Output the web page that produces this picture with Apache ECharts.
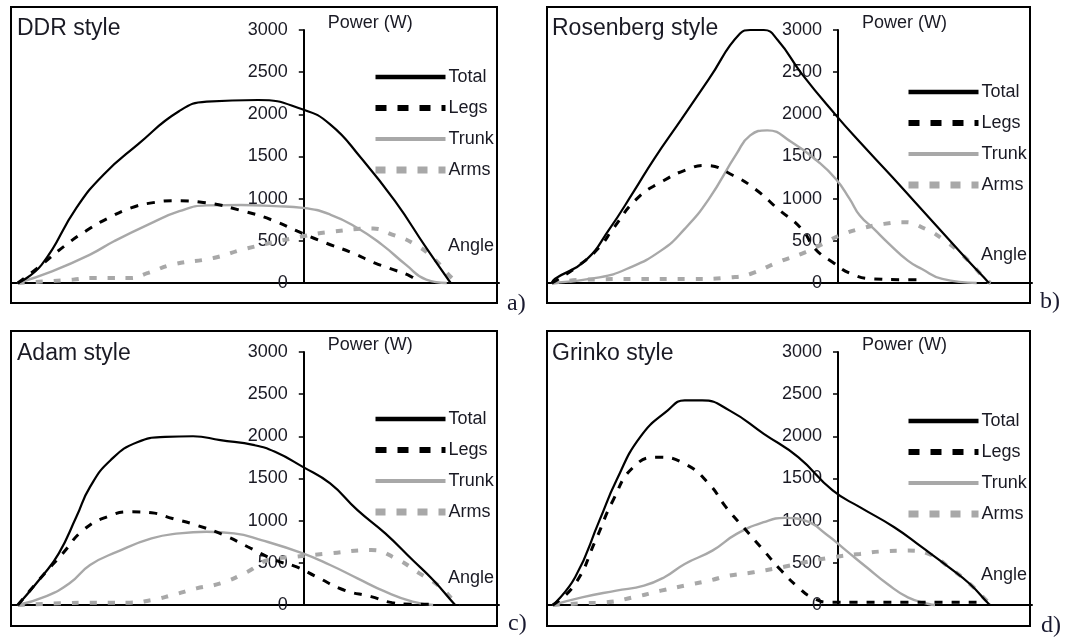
<!DOCTYPE html>
<html>
<head>
<meta charset="utf-8">
<script src="https://cdn.jsdelivr.net/npm/echarts@6/dist/echarts.min.js"></script>
<style>
html,body{margin:0;padding:0;background:#fff;}
#chart{width:1072px;height:643px;}
</style>
</head>
<body>
<div id="chart"></div>
<script>
// ---- data (angle, power W) ----
const panelTitles = ['DDR style', 'Rosenberg style', 'Adam style', 'Grinko style'];
const panelTags = ['a)', 'b)', 'c)', 'd)'];
const seriesNames = ['Total', 'Legs', 'Trunk', 'Arms'];
const yTickMin = 0, yTickMax = 3000, yTickStep = 500;
const angleMin = -60, angleMax = 40;

const ddrTotal = [[-58.6,0],[-53.7,218],[-46.6,891],[-41.0,1287],[-34.0,1643],[-25.5,2039],[-19.9,2150],[-9.4,2170],[-0.3,2060],[5.4,1881],[11.7,1485],[18.7,970],[25.1,416],[30.1,0]];
const ddrLegs = [[-58.6,0],[-53.7,218],[-49.1,436],[-44.2,634],[-40.0,772],[-35.4,891],[-31.2,950],[-26.2,975],[-20.6,955],[-11.8,843],[-5.9,733],[-1.3,614],[3.6,495],[10.0,356],[14.5,238],[17.4,178],[21.9,79],[23.7,0]];
const ddrTrunk = [[-58.6,0],[-51.6,139],[-43.8,337],[-38.9,495],[-31.9,693],[-25.5,851],[-19.9,920],[-12.9,925],[-5.9,911],[-0.2,891],[5.4,812],[11.0,653],[16.0,455],[20.9,218],[25.1,40],[29.3,0]];
const ddrArms = [[-58.6,0],[-47.3,40],[-43.5,59],[-39.3,59],[-35.7,59],[-31.9,119],[-26.9,218],[-18.5,297],[-11.8,408],[-0.2,554],[5.4,606],[14.2,645],[18.1,574],[22.3,475],[26.5,297],[30.7,40],[32.1,0]];

const rosTotal = [[-59.0,0],[-58.4,48],[-52.1,265],[-47.1,642],[-42.2,1077],[-37.9,1473],[-32.3,1940],[-26.6,2420],[-20.2,2958],[-18.1,3000],[-15.3,3000],[-12.4,2879],[-7.5,2483],[-0.4,1988],[4.5,1671],[10.9,1275],[15.9,958],[21.5,602],[26.5,285],[30.7,28],[31.2,0]];
const rosLegs = [[-59.0,0],[-53.5,206],[-49.2,424],[-46.4,642],[-41.5,998],[-36.5,1196],[-30.8,1354],[-27.3,1394],[-21.6,1275],[-16.7,1097],[-12.4,879],[-7.5,642],[-4.7,404],[-1.1,246],[2.8,107],[7.4,48],[13.0,40],[17.3,40]];
const rosTrunk = [[-59.0,0],[-49.2,67],[-43.6,166],[-36.5,384],[-31.6,642],[-26.6,998],[-20.9,1533],[-18.1,1750],[-14.6,1810],[-9.6,1671],[-4.0,1434],[-0.4,1230],[2.4,998],[4.5,800],[7.4,642],[10.2,483],[14.4,265],[17.3,166],[21.5,48],[28.6,0]];
const rosArms = [[-59.0,0],[-52.0,40],[-40.0,48],[-30.0,48],[-22.0,67],[-18.1,107],[-12.4,246],[-6.8,364],[-2.5,483],[0.3,562],[4.5,642],[9.5,701],[13.7,721],[18.0,642],[21.5,523],[25.8,325],[30.7,28],[31.5,0]];

const adamTotal = [[-58.6,0],[-53.7,335],[-50.2,612],[-46.6,1046],[-43.8,1401],[-39.6,1717],[-34.0,1934],[-28.4,1993],[-22.7,2001],[-17.1,1954],[-10.1,1895],[-5.9,1816],[-0.2,1638],[5.4,1441],[11.0,1125],[16.7,849],[22.3,533],[26.5,296],[30.7,20],[31.0,0]];
const adamLegs = [[-58.6,0],[-53.7,335],[-49.4,612],[-45.2,888],[-40.3,1046],[-35.4,1105],[-31.2,1093],[-26.9,1026],[-22.0,947],[-16.4,829],[-11.5,691],[-5.9,533],[-1.6,454],[2.6,335],[8.2,178],[13.8,99],[18.1,28],[22.0,10],[26.0,10]];
const adamTrunk = [[-58.6,0],[-53.0,99],[-48.0,257],[-43.8,474],[-38.2,632],[-31.2,789],[-25.5,849],[-19.9,868],[-14.3,849],[-8.7,770],[-0.2,612],[5.4,474],[11.0,316],[16.7,158],[22.3,39],[26.5,0]];
const adamArms = [[-58.6,0],[-50.0,20],[-43.8,28],[-39.6,28],[-35.7,28],[-31.2,59],[-26.9,118],[-22.0,197],[-17.1,257],[-11.5,395],[-7.3,533],[-1.6,572],[5.4,612],[13.8,651],[18.8,553],[23.7,375],[27.9,217],[31.4,12],[32.0,0]];

const grinTotal = [[-58.8,0],[-54.2,329],[-49.2,1001],[-45.7,1476],[-40.8,1991],[-35.1,2308],[-31.6,2426],[-28.0,2426],[-22.4,2308],[-15.3,2030],[-8.2,1753],[-1.1,1358],[4.5,1160],[11.6,922],[17.3,685],[22.9,447],[27.2,249],[31.1,12],[31.5,0]];
const grinLegs = [[-58.8,0],[-54.2,249],[-50.0,764],[-46.4,1239],[-42.2,1635],[-37.2,1753],[-31.6,1674],[-26.6,1437],[-23.1,1160],[-19.5,922],[-15.3,645],[-11.7,408],[-8.2,210],[-5.4,91],[-1.8,32],[3.8,32],[14.4,32],[28.6,32]];
const grinTrunk = [[-58.8,0],[-52.8,91],[-45.7,170],[-40.0,230],[-35.8,329],[-31.6,487],[-25.9,645],[-20.9,843],[-15.3,982],[-11.0,1033],[-6.8,1001],[-2.5,843],[1.7,645],[5.9,447],[10.2,249],[14.4,91],[18.7,12],[20.0,0]];
const grinArms = [[-58.8,0],[-52.8,20],[-47.8,32],[-42.2,91],[-36.5,170],[-31.6,230],[-26.6,289],[-22.4,348],[-17.4,388],[-12.4,439],[-6.8,507],[-1.1,566],[4.5,606],[9.5,637],[14.4,645],[18.7,606],[22.9,447],[27.2,249],[31.4,12],[32.0,0]];

const panelData = [
  [ddrTotal, ddrLegs, ddrTrunk, ddrArms],
  [rosTotal, rosLegs, rosTrunk, rosArms],
  [adamTotal, adamLegs, adamTrunk, adamArms],
  [grinTotal, grinLegs, grinTrunk, grinArms]
];

// ---- layout / style ----
const FONT = '"Liberation Sans", Arial, sans-serif';
const TXT = '#1a1a24';
const GRAY = '#a8a8a8';
const panels = [
  {box:[11,7,486,296],   grid:{left:11,  top:30,  width:488, height:253}, title:[17,29],   tag:[507,304], legendTop:68,  legendLeft:372, anglePad:28},
  {box:[547,7,483,296],  grid:{left:547, top:30,  width:485, height:253}, title:[552,29],  tag:[1040,302], legendTop:83, legendLeft:905, anglePad:19},
  {box:[11,331,486,295], grid:{left:11,  top:352, width:488, height:253}, title:[17,354],  tag:[508,624], legendTop:410, legendLeft:372, anglePad:18},
  {box:[547,331,483,295],grid:{left:547, top:352, width:485, height:253}, title:[552,354], tag:[1041,626], legendTop:412, legendLeft:905, anglePad:21}
];

const lineStyles = [
  {color:'#000', width:2.2, type:'solid'},
  {color:'#000', width:3, type:[8,9]},
  {color:GRAY, width:2.4, type:'solid'},
  {color:GRAY, width:4, type:[7,11]}
];
const legendStyles = [
  {color:'#000', width:4.5, type:'solid'},
  {color:'#000', width:6, type:[11,11]},
  {color:GRAY, width:4, type:'solid'},
  {color:GRAY, width:7, type:[10,11]}
];

const grids = [], xAxes = [], yAxes = [], series = [], legends = [], graphics = [];
panels.forEach((p, i) => {
  grids.push(Object.assign({containLabel:false, outerBoundsMode:'none'}, p.grid));
  // y axis sits at angle 0
  const zeroOffset = -p.grid.width * (0 - angleMin) / (angleMax - angleMin);
  xAxes.push({
    type:'value', gridIndex:i, min:angleMin, max:angleMax, position:'bottom',
    name:'Angle', nameLocation:'end', nameGap:-51,
    nameTextStyle:{fontFamily:FONT, fontSize:18, color:TXT, align:'left', verticalAlign:'bottom', padding:[0,0,p.anglePad,0]},
    axisLine:{show:true, onZero:false, lineStyle:{color:'#000', width:2}},
    axisTick:{show:false}, axisLabel:{show:false}, splitLine:{show:false}
  });
  yAxes.push({
    type:'value', gridIndex:i, min:yTickMin, max:yTickMax, interval:yTickStep,
    position:'left', offset:zeroOffset,
    name:'Power (W)', nameLocation:'end', nameGap:7,
    nameTextStyle:{fontFamily:FONT, fontSize:18, color:TXT, align:'left', verticalAlign:'middle', padding:[0,0,0,24]},
    axisLine:{show:true, onZero:false, lineStyle:{color:'#000', width:2}},
    axisTick:{show:true, inside:false, length:5, lineStyle:{color:'#000', width:1.5}},
    axisLabel:{fontFamily:FONT, fontSize:18, color:TXT, margin:16, formatter:v => String(v)},
    splitLine:{show:false}
  });
  seriesNames.forEach((nm, k) => {
    series.push({
      type:'line', name:nm, xAxisIndex:i, yAxisIndex:i,
      data:panelData[i][k], smooth:0.5, symbol:'none', clip:false,
      lineStyle:lineStyles[k], z:10-k, silent:true
    });
  });
  legends.push({
    orient:'vertical', left:p.legendLeft, top:p.legendTop, padding:0,
    itemWidth:70, itemHeight:14, itemGap:13, selectedMode:false,
    textStyle:{fontFamily:FONT, fontSize:18, color:TXT, padding:[0,0,0,-2]},
    itemStyle:{opacity:0},
    data: seriesNames.map((nm, k) => ({name:nm, lineStyle:legendStyles[k], itemStyle:{opacity:0}}))
  });
  graphics.push({type:'rect', shape:{x:p.box[0], y:p.box[1], width:p.box[2], height:p.box[3]},
    style:{fill:'none', stroke:'#000', lineWidth:2}, z:-1, silent:true});
  graphics.push({type:'text', x:p.title[0], y:p.title[1],
    style:{text:panelTitles[i], font:'23px ' + FONT, fill:TXT, verticalAlign:'middle', align:'left'}});
  graphics.push({type:'text', x:p.tag[0], y:p.tag[1],
    style:{text:panelTags[i], font:'24px "Liberation Serif", "Times New Roman", serif', fill:'#1a1a30', verticalAlign:'middle', align:'left'}});
});

const chart = echarts.init(document.getElementById('chart'), null, {renderer:'canvas'});
chart.setOption({
  backgroundColor:'#fff',
  animation:false,
  grid:grids, xAxis:xAxes, yAxis:yAxes, series:series, legend:legends,
  graphic:graphics
});
</script>
</body>
</html>
